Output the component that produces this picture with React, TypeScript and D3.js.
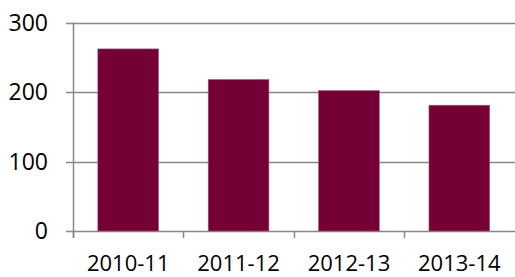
import React from "react";
import * as d3 from "d3";

const categories = ["2010-11", "2011-12", "2012-13", "2013-14"];
const values = [262, 218, 202, 181];
const yTicks = [0, 100, 200, 300];

const width = 515;
const height = 277;
const margin = { top: 22.5, right: 0, bottom: 46, left: 73 };

export default function App() {
  const x = d3
    .scaleBand()
    .domain(categories)
    .range([margin.left, width - 0.5])
    .paddingInner(0.45)
    .paddingOuter(0.225);

  const band = d3
    .scaleBand()
    .domain(categories)
    .range([margin.left, width - 0.5]);

  const y = d3
    .scaleLinear()
    .domain([0, 300])
    .range([height - margin.bottom, margin.top]);

  const font = "'Open Sans', sans-serif";

  return (
    <svg
      width={width}
      height={height}
      style={{ position: "absolute", left: 0, top: 0, background: "#fff" }}
    >
      {/* gridlines + y ticks */}
      {yTicks.map((t) => (
        <g key={t}>
          <line
            x1={margin.left - 7}
            x2={width}
            y1={Math.round(y(t)) + 0.5}
            y2={Math.round(y(t)) + 0.5}
            stroke="#888"
            strokeWidth={1.5}
          />
          <text
            x={48}
            y={y(t) + 8}
            textAnchor="end"
            fontFamily={font}
            fontSize={23}
            fill="#000"
          >
            {t}
          </text>
        </g>
      ))}

      {/* y axis */}
      <line
        x1={margin.left + 0.5}
        x2={margin.left + 0.5}
        y1={y(300)}
        y2={y(0) + 7}
        stroke="#888"
        strokeWidth={1.5}
      />

      {/* category ticks */}
      {categories.map((c) => (
        <line
          key={c}
          x1={Math.round(band(c)!) + 0.5}
          x2={Math.round(band(c)!) + 0.5}
          y1={y(0)}
          y2={y(0) + 7}
          stroke="#888"
          strokeWidth={1.5}
        />
      ))}

      {/* bars */}
      {categories.map((c, i) => (
        <rect
          key={c}
          x={x(c)}
          y={y(values[i])}
          width={x.bandwidth()}
          height={y(0) - y(values[i])}
          fill="#750036"
          stroke="#a0607a"
          strokeWidth={0.6}
        />
      ))}

      {/* x labels */}
      {categories.map((c) => (
        <text
          key={c}
          x={band(c)! + band.bandwidth() / 2}
          y={271}
          textAnchor="middle"
          fontFamily={font}
          fontSize={22}
          fill="#000"
        >
          {c}
        </text>
      ))}
    </svg>
  );
}
